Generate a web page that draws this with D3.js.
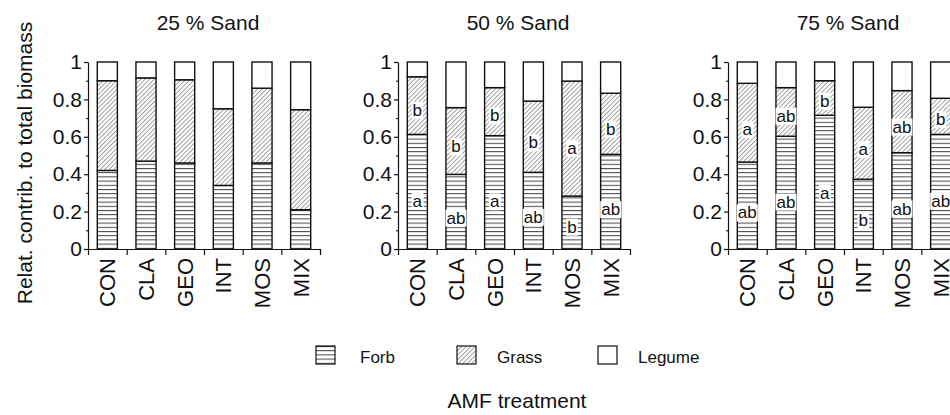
<!DOCTYPE html>
<meta charset="utf-8">
<html>
<head>
<style>
  body { margin: 0; background: #fff; }
  svg text { font-family: "Liberation Sans", Arial, sans-serif; fill: #111; }
</style>
<script src="https://d3js.org/d3.v7.min.js"></script>
</head>
<body>
<svg width="950" height="415"></svg>
<script>
// data
var treatments = ["CON", "CLA", "GEO", "INT", "MOS", "MIX"];
var sands = ["25 % Sand", "50 % Sand", "75 % Sand"];
var groups = ["Forb", "Grass", "Legume"];

var forb25 = [0.42, 0.47, 0.46, 0.34, 0.46, 0.21];
var grass25 = [0.48, 0.445, 0.445, 0.41, 0.40, 0.535];
var forb50 = [0.613, 0.399, 0.606, 0.41, 0.283, 0.506];
var grass50 = [0.308, 0.357, 0.257, 0.381, 0.615, 0.327];
var forb75 = [0.465, 0.603, 0.715, 0.373, 0.515, 0.613];
var grass75 = [0.421, 0.26, 0.185, 0.385, 0.332, 0.193];

// significance letters (none for 25 % sand)
var forbLetters = [null, ["a", "ab", "a", "ab", "b", "ab"], ["ab", "ab", "a", "b", "ab", "ab"]];
var grassLetters = [null, ["b", "b", "b", "b", "a", "b"], ["a", "ab", "b", "a", "ab", "b"]];

var forbs = [forb25, forb50, forb75];
var grasses = [grass25, grass50, grass75];

var panelX = [88, 398, 728];
var panelW = 232;
var plotTop = 62, plotBottom = 249;

var svg = d3.select("svg");
var defs = svg.append("defs");

// horizontal lines for forb
var pf = defs.append("pattern").attr("id", "forb")
    .attr("patternUnits", "userSpaceOnUse").attr("width", 6).attr("height", 4.2);
pf.append("rect").attr("width", 6).attr("height", 4.2).attr("fill", "#fff");
pf.append("line").attr("x1", 0).attr("x2", 6).attr("y1", 0.5).attr("y2", 0.5)
    .attr("stroke", "#444").attr("stroke-width", 1);

// diagonal hatch for grass
var pg = defs.append("pattern").attr("id", "grass")
    .attr("patternUnits", "userSpaceOnUse").attr("width", 3.2).attr("height", 3.2)
    .attr("patternTransform", "rotate(45)");
pg.append("rect").attr("width", 3.2).attr("height", 3.2).attr("fill", "#fff");
pg.append("line").attr("x1", 0.5).attr("x2", 0.5).attr("y1", 0).attr("y2", 3.2)
    .attr("stroke", "#888").attr("stroke-width", 0.8);

var fills = ["url(#forb)", "url(#grass)", "#fff"];

var y = d3.scaleLinear().domain([0, 1]).range([plotBottom, plotTop]);

sands.forEach(function(title, p) {
    var g = svg.append("g").attr("transform", "translate(" + panelX[p] + ",0)");

    var x = d3.scaleBand().domain(treatments).range([0, panelW])
        .paddingInner(0.48).paddingOuter(0.24);

    // stacked rows
    var rows = treatments.map(function(t, i) {
        return { t: t, Forb: forbs[p][i], Grass: grasses[p][i],
                 Legume: 1 - forbs[p][i] - grasses[p][i] };
    });
    var series = d3.stack().keys(groups)(rows);

    series.forEach(function(s, k) {
        g.selectAll(null).data(s).enter().append("rect")
            .attr("x", function(d) { return x(d.data.t); })
            .attr("y", function(d) { return y(d[1]); })
            .attr("width", x.bandwidth())
            .attr("height", function(d) { return y(d[0]) - y(d[1]); })
            .attr("fill", fills[k])
            .attr("stroke", "#111")
            .attr("stroke-width", 1.4);
    });

    // letters
    [[forbLetters[p], 0], [grassLetters[p], 1]].forEach(function(pair) {
        var letters = pair[0];
        if (!letters) return;
        var s = series[pair[1]];
        letters.forEach(function(l, i) {
            var d = s[i];
            var cy = y(d[0] + 0.42 * (d[1] - d[0]));
            var cx = x(treatments[i]) + x.bandwidth() / 2;
            var bg = g.append("rect").attr("fill", "#fff");
            var tx = g.append("text")
                .attr("x", cx).attr("y", cy).attr("dy", "0.35em")
                .attr("text-anchor", "middle")
                .style("font-size", "17px")
                .text(l);
            var bb = tx.node().getBBox();
            bg.attr("x", bb.x - 1).attr("y", bb.y + 1)
              .attr("width", bb.width + 2).attr("height", bb.height - 2);
        });
    });

    // y axis
    g.append("g")
        .call(d3.axisLeft(y).tickValues([0.1, 0.3, 0.5, 0.7, 0.9])
            .tickSize(2).tickSizeOuter(0).tickFormat(""))
        .call(function(a) { a.select(".domain").remove(); });
    var ya = g.append("g")
        .call(d3.axisLeft(y).tickValues([0, 0.2, 0.4, 0.6, 0.8, 1])
            .tickSize(4).tickSizeOuter(0).tickFormat(d3.format("~g")));
    ya.selectAll("text").style("font-size", "21px").attr("x", -6);
    ya.selectAll("path, line").attr("stroke", "#111").attr("stroke-width", 1.2);

    // x axis: ticks at band boundaries
    var xb = d3.scaleLinear().domain([0, treatments.length]).range([0, panelW]);
    var xa = g.append("g").attr("transform", "translate(0," + plotBottom + ")")
        .call(d3.axisBottom(xb).tickValues(d3.range(0, 7)).tickSize(6)
            .tickSizeOuter(0).tickFormat(""));
    xa.selectAll("path, line").attr("stroke", "#111").attr("stroke-width", 1.2);

    g.selectAll(null).data(treatments).enter().append("text")
        .attr("transform", function(d) {
            return "translate(" + (x(d) + x.bandwidth() / 2) + ",258) rotate(-90)";
        })
        .attr("dy", "0.36em")
        .attr("text-anchor", "end")
        .style("font-size", "22px")
        .text(function(d) { return d; });

    g.append("text")
        .attr("x", panelW / 2 + 4).attr("y", 30)
        .attr("text-anchor", "middle")
        .style("font-size", "21px")
        .text(title);
});

// y title
svg.append("text")
    .attr("transform", "translate(32,163) rotate(-90)")
    .attr("text-anchor", "middle")
    .style("font-size", "21px")
    .text("Relat. contrib. to total biomass");

// legend
var legend = svg.selectAll(".leg").data(groups).enter().append("g")
    .attr("class", "leg")
    .attr("transform", function(d, i) { return "translate(" + (316 + i * 141) + ",346)"; });
legend.append("rect")
    .attr("width", 19).attr("height", 18)
    .attr("fill", function(d, i) { return fills[i]; })
    .attr("stroke", "#111").attr("stroke-width", 1.2);
legend.append("text")
    .attr("x", function(d, i) { return i === 0 ? 44 : 40; })
    .attr("y", 17)
    .style("font-size", "17px")
    .text(function(d) { return d; });

svg.append("text")
    .attr("x", 517).attr("y", 408)
    .attr("text-anchor", "middle")
    .style("font-size", "21px")
    .text("AMF treatment");
</script>
</body>
</html>
